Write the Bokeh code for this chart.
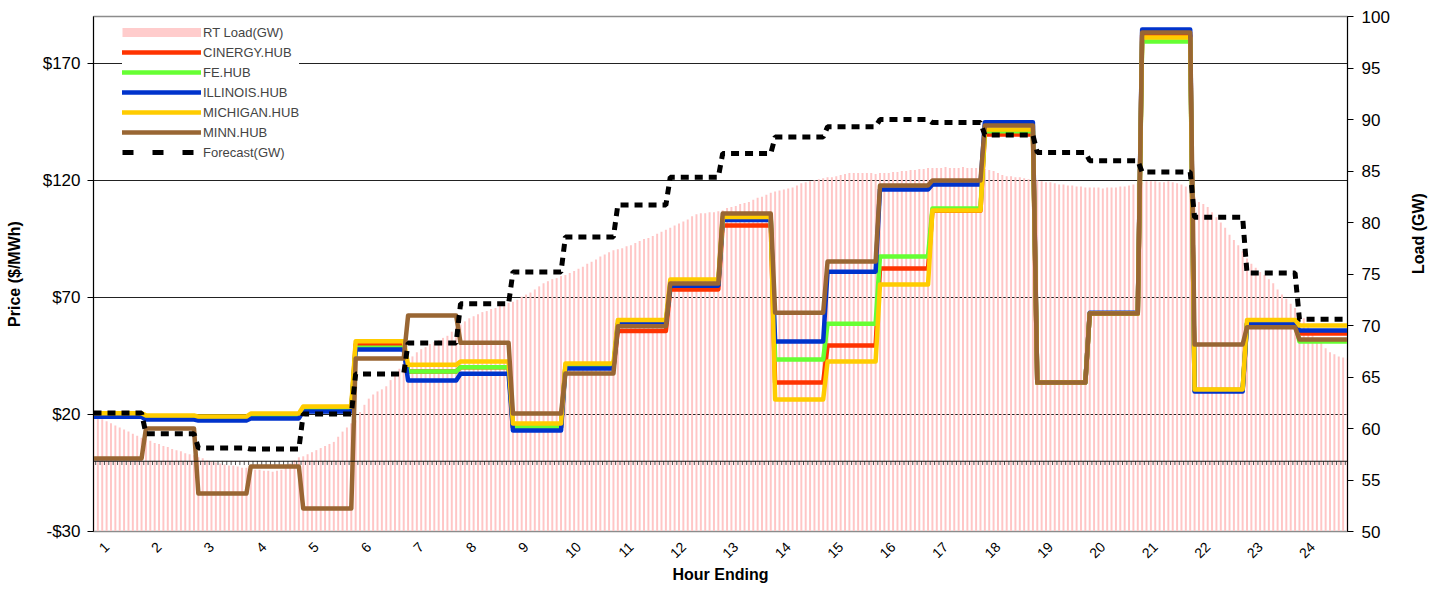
import numpy as np
from bokeh.plotting import figure
from bokeh.models import Range1d, LinearAxis, FixedTicker, Legend, LegendItem, Span
from bokeh.embed import file_html
from bokeh.resources import INLINE

# ---------------- data ----------------
hour_labels = [str(h) for h in range(1, 25)]
price_ticks = [-30, 20, 70, 120, 170]
price_tick_labels = ["-$30", "$20", "$70", "$120", "$170"]
load_ticks = [50, 55, 60, 65, 70, 75, 80, 85, 90, 95, 100]

cinergy = [19.8, 18.8, 18.3, 19.3, 22.3, 49.9, 38.3, 40.2, 14.5, 40.5, 55.6, 73.4,
           100.7, 33.6, 49.5, 82.3, 107.0, 139.6, 33.6, 63.1, 182.0, 30.5, 59.0, 54.6]
fe_hub = [19.8, 18.8, 18.3, 19.3, 22.3, 48.5, 38.3, 40.2, 14.5, 40.5, 58.9, 75.5,
          103.5, 43.5, 58.8, 87.5, 108.0, 141.0, 33.6, 63.1, 179.3, 30.5, 59.0, 51.2]
illinois = [19.0, 17.8, 17.4, 18.3, 21.3, 47.7, 34.5, 37.4, 13.1, 39.6, 58.6, 75.0,
            103.1, 51.2, 81.0, 116.1, 118.2, 144.8, 33.6, 63.5, 184.4, 29.8, 58.7, 55.9]
michigan = [20.5, 19.6, 19.1, 20.4, 23.4, 51.3, 41.2, 42.6, 16.1, 41.8, 60.3, 77.6,
            104.3, 26.4, 42.6, 75.5, 107.1, 141.7, 33.6, 63.1, 181.0, 30.7, 60.4, 58.0]
minn = [1.2, 14.0, -13.8, -2.2, -20.2, 43.9, 62.3, 50.6, 20.4, 37.5, 57.7, 75.9,
        105.8, 63.5, 85.3, 117.8, 119.9, 143.4, 33.6, 63.1, 183.2, 49.9, 57.3, 52.0]
forecast = [61.5, 59.5, 58.1, 58.0, 61.4, 65.3, 68.3, 72.1, 75.2, 78.6, 81.7, 84.4,
            86.7, 88.3, 89.3, 90.0, 89.7, 88.5, 86.8, 86.0, 84.9, 80.5, 75.1, 70.6]

# RT load, 5-minute values (12 per hour)
rt_load = [
    61.3, 61.1, 60.9, 60.7, 60.5, 60.3, 60.1, 59.9, 59.7, 59.5, 59.3, 59.1,
    59.0, 58.8, 58.6, 58.5, 58.3, 58.2, 58.0, 57.9, 57.8, 57.6, 57.5, 57.4,
    57.2, 57.1, 56.9, 56.8, 56.7, 56.6, 56.5, 56.4, 56.4, 56.3, 56.2, 56.2,
    56.1, 56.0, 56.0, 55.9, 55.9, 55.8, 55.9, 56.0, 56.3, 56.6, 56.9, 57.2,
    57.3, 57.5, 57.7, 57.9, 58.1, 58.3, 58.5, 58.7, 59.2, 59.7, 60.1, 60.5,
    60.8, 61.6, 62.3, 62.9, 63.3, 63.6, 63.8, 64.1, 64.7, 65.3, 65.8, 66.3,
    66.7, 67.0, 67.4, 67.7, 67.9, 68.2, 68.4, 68.6, 68.8, 69.0, 69.4, 69.8,
    70.1, 70.4, 70.7, 70.9, 71.1, 71.3, 71.4, 71.6, 71.7, 71.9, 72.0, 72.2,
    72.3, 72.5, 72.8, 73.0, 73.2, 73.5, 73.8, 74.1, 74.3, 74.5, 74.6, 74.8,
    74.9, 75.1, 75.3, 75.5, 75.7, 76.0, 76.2, 76.4, 76.7, 76.9, 77.1, 77.3,
    77.4, 77.5, 77.7, 77.8, 78.0, 78.2, 78.4, 78.5, 78.7, 78.9, 79.1, 79.3,
    79.5, 79.7, 79.9, 80.1, 80.3, 80.6, 80.8, 80.9, 80.9, 81.0, 81.0, 81.1,
    81.2, 81.4, 81.5, 81.6, 81.8, 81.9, 82.0, 82.2, 82.4, 82.5, 82.7, 82.9,
    83.0, 83.1, 83.2, 83.3, 83.4, 83.6, 83.8, 83.9, 84.0, 84.1, 84.2, 84.3,
    84.4, 84.4, 84.5, 84.6, 84.7, 84.8, 84.8, 84.8, 84.8, 84.8, 84.8, 84.7,
    84.8, 84.8, 84.8, 84.9, 84.9, 85.0, 85.0, 85.1, 85.1, 85.2, 85.2, 85.3,
    85.3, 85.3, 85.3, 85.4, 85.3, 85.3, 85.3, 85.4, 85.3, 85.3, 85.3, 85.3,
    85.2, 85.1, 85.0, 84.8, 84.6, 84.5, 84.5, 84.4, 84.4, 84.3, 84.2, 84.1,
    84.1, 84.0, 83.9, 83.9, 83.8, 83.7, 83.7, 83.6, 83.6, 83.5, 83.5, 83.4,
    83.4, 83.4, 83.4, 83.3, 83.4, 83.4, 83.4, 83.5, 83.5, 83.6, 83.7, 83.8,
    83.9, 84.0, 84.0, 84.0, 83.9, 83.9, 84.0, 83.9, 83.8, 83.7, 83.5, 83.2,
    82.5, 82.0, 81.8, 81.5, 81.0, 80.5, 80.0, 79.5, 78.8, 78.3, 77.8, 77.2,
    76.5, 76.0, 75.6, 75.2, 74.9, 74.5, 74.1, 73.5, 73.0, 72.6, 72.1, 71.7,
    71.2, 70.7, 70.2, 69.5, 68.8, 68.3, 67.8, 67.4, 67.2, 67.0, 66.9, 66.8,
]

STEPS = 12  # 5-minute intervals per hour
n = len(rt_load)
idx = np.arange(n)

FONT = "Liberation Sans"
W, H = 1438, 586
BL, BT, BR, BB = 93, 16, 90, 55
FW, FH = W - BL - BR, H - BT - BB

p = figure(width=W, height=H, x_range=Range1d(0, n - 1), y_range=Range1d(-30, 190),
           output_backend="svg", toolbar_location=None,
           min_border_left=BL, min_border_right=BR, min_border_top=BT, min_border_bottom=BB)
p.extra_y_ranges = {"load": Range1d(50, 100)}
p.outline_line_color = "#8c8c8c"
p.outline_line_width = 1.5
p.background_fill_color = "white"

# grid
p.xgrid.visible = False
p.ygrid.ticker = FixedTicker(ticks=price_ticks)
p.ygrid.grid_line_color = "#222222"
p.ygrid.grid_line_width = 1

# left axis
ya = p.yaxis[0]
ya.ticker = FixedTicker(ticks=price_ticks)
ya.major_label_overrides = {t: l for t, l in zip(price_ticks, price_tick_labels)}
ya.axis_label = "Price ($/MWh)"
ya.axis_label_text_font = FONT
ya.axis_label_text_font_style = "bold"
ya.axis_label_text_font_size = "16px"
ya.axis_label_text_color = "black"
ya.axis_label_standoff = 17
ya.major_label_text_font = FONT
ya.major_label_text_font_size = "17px"
ya.major_label_text_color = "black"
ya.major_label_standoff = 7
ya.major_tick_out = 6
ya.major_tick_in = 0
ya.minor_tick_line_color = None
ya.axis_line_color = "black"
ya.major_tick_line_color = "black"

# right axis
ra = LinearAxis(y_range_name="load", ticker=FixedTicker(ticks=load_ticks),
                axis_label="Load (GW)")
if "axis_label_orientation" in ra.properties():
    ra.axis_label_orientation = np.pi / 2
ra.axis_label_text_font = FONT
ra.axis_label_text_font_style = "bold"
ra.axis_label_text_font_size = "16px"
ra.axis_label_text_color = "black"
ra.axis_label_standoff = 26
ra.major_label_text_font = FONT
ra.major_label_text_font_size = "17px"
ra.major_label_text_color = "black"
ra.major_label_standoff = 8
ra.major_tick_out = 6
ra.major_tick_in = 0
ra.minor_tick_line_color = None
ra.axis_line_color = "black"
ra.major_tick_line_color = "black"
p.add_layout(ra, "right")

# bottom axis
xa = p.xaxis[0]
hour_ticks = [STEPS * i + 3 for i in range(len(hour_labels))]
xa.ticker = FixedTicker(ticks=hour_ticks)
xa.major_label_overrides = {t: l for t, l in zip(hour_ticks, hour_labels)}
xa.major_label_orientation = np.pi / 4
xa.major_label_text_font = FONT
xa.major_label_text_font_size = "14px"
xa.major_label_text_color = "black"
xa.major_label_standoff = 7
xa.major_tick_line_color = None
xa.minor_tick_line_color = None
xa.axis_line_color = "#8c8c8c"
xa.axis_label = "Hour Ending"
xa.axis_label_text_font = FONT
xa.axis_label_text_font_style = "bold"
xa.axis_label_text_font_size = "16px"
xa.axis_label_text_color = "black"
xa.axis_label_standoff = 0

# RT load bars
bars = p.vbar(x=idx, top=rt_load, bottom=50, width=0.45, fill_color="#FFC6C6",
              line_color=None, y_range_name="load")

# zero line with category ticks
p.add_layout(Span(location=0, dimension="width", line_color="#111111", line_width=1.2))
p.segment(x0=idx + 0.5, y0=0, x1=idx + 0.5, y1=-1.6, line_color="#555555", line_width=1)

# price lines (drawn in series order, last on top)
series = [
    ("CINERGY.HUB", cinergy, "#FF3300"),
    ("FE.HUB", fe_hub, "#66FF33"),
    ("ILLINOIS.HUB", illinois, "#0033CC"),
    ("MICHIGAN.HUB", michigan, "#FFCC00"),
    ("MINN.HUB", minn, "#996633"),
]
nan_x, nan_y = [0.0], [float("nan")]
items = []
leg_bar = p.line(x=nan_x, y=nan_y, line_color="#FFCCCC", line_width=9, line_cap="butt")
items.append(LegendItem(label="RT Load(GW)", renderers=[leg_bar]))
for name, vals, col in series:
    p.line(x=idx, y=np.repeat(vals, STEPS), line_color=col, line_width=4.5,
           line_join="round")
    lg = p.line(x=nan_x, y=nan_y, line_color=col, line_width=4.5, line_cap="round")
    items.append(LegendItem(label=name, renderers=[lg]))

p.line(x=idx, y=np.repeat(forecast, STEPS), line_color="black", line_width=5,
       line_dash="8 6", y_range_name="load")
leg_fc = p.line(x=nan_x, y=nan_y, line_color="black", line_width=5, line_dash="11 19")
items.append(LegendItem(label="Forecast(GW)", renderers=[leg_fc]))

legend = Legend(items=items, location=(29, FH - 146), glyph_width=79, glyph_height=20,
                label_height=20, label_standoff=2, spacing=0, padding=4, margin=0,
                label_text_font=FONT, label_text_font_size="13px",
                background_fill_color="white", background_fill_alpha=1.0,
                border_line_color=None)
p.add_layout(legend)

open("out.html", "w").write(file_html(p, INLINE))
